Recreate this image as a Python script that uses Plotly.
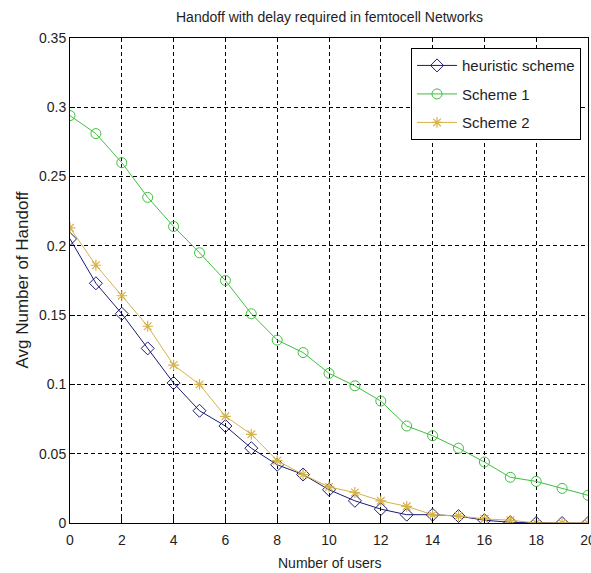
import plotly.graph_objects as go

users = list(range(21))
heuristic = [0.205, 0.173, 0.151, 0.126, 0.101, 0.081, 0.070, 0.054, 0.042, 0.035,
             0.024, 0.016, 0.010, 0.006, 0.006, 0.005, 0.002, 0.0005, 0.0, 0.0, 0.0]
scheme1 = [0.294, 0.281, 0.260, 0.235, 0.214, 0.195, 0.175, 0.151, 0.132, 0.123,
           0.108, 0.099, 0.088, 0.070, 0.063, 0.054, 0.044, 0.033, 0.030, 0.025, 0.020]
scheme2 = [0.213, 0.186, 0.164, 0.142, 0.114, 0.100, 0.077, 0.064, 0.045, 0.035,
           0.026, 0.022, 0.016, 0.012, 0.006, 0.005, 0.003, 0.002, 0.0, 0.0, 0.0]
x_ticks = list(range(0, 21, 2))
y_ticks = [0, 0.05, 0.1, 0.15, 0.2, 0.25, 0.3, 0.35]
y_tick_labels = ["0", "0.05", "0.1", "0.15", "0.2", "0.25", "0.3", "0.35"]

FONT = "Liberation Sans, Arial, sans-serif"
TXT = "#1e1e1e"

fig = go.Figure()
fig.add_trace(go.Scatter(
    x=users, y=heuristic, name="heuristic scheme", mode="lines+markers",
    legendgroup="a",
    line=dict(color="#1c1c70", width=1),
    marker=dict(symbol="diamond-open", size=10, color="#1c1c70", line=dict(width=1)),
))
fig.add_trace(go.Scatter(
    x=users, y=scheme1, name="Scheme 1", mode="lines+markers",
    legendgroup="b",
    line=dict(color="#3fbf3f", width=1),
    marker=dict(symbol="circle-open", size=10, color="#3fbf3f", line=dict(width=1)),
))
fig.add_trace(go.Scatter(
    x=users, y=scheme2, name="Scheme 2", mode="lines+markers",
    legendgroup="c",
    line=dict(color="#d6b24a", width=1),
    marker=dict(symbol="asterisk-open", size=9, color="#d6b24a", line=dict(width=1.2, color="#d6b24a")),
))

axis_common = dict(
    showline=True, linecolor="black", linewidth=1, mirror=True,
    showgrid=True, gridcolor="black", gridwidth=1, griddash="4px,3px",
    ticks="inside", ticklen=5, tickcolor="black", zeroline=False,
    tickfont=dict(family=FONT, size=14, color=TXT),
    automargin=False, ticklabeloverflow="allow",
)

fig.update_layout(
    width=591, height=573,
    margin=dict(l=70, r=3, t=38, b=50),
    paper_bgcolor="white", plot_bgcolor="white",
    font=dict(family=FONT, color=TXT),
    showlegend=True,
    legend=dict(
        x=0.9865, y=0.979, xanchor="right", yanchor="top",
        bgcolor="white", bordercolor="black", borderwidth=1,
        font=dict(family=FONT, size=15, color=TXT),
        itemwidth=40, tracegroupgap=6,
    ),
    xaxis=dict(range=[0, 20], tickmode="array", tickvals=x_ticks,
               ticklabelstandoff=4, **axis_common),
    yaxis=dict(range=[0, 0.35], tickmode="array", tickvals=y_ticks,
               ticktext=y_tick_labels, **axis_common),
    annotations=[
        dict(text="Handoff with delay required in femtocell Networks", xref="paper", yref="paper",
             x=0.5, y=1, yshift=21, xanchor="center", yanchor="middle", showarrow=False,
             font=dict(family=FONT, size=14, color=TXT)),
        dict(text="Number of users", xref="paper", yref="paper",
             x=0.5, y=0, yshift=-40, xanchor="center", yanchor="middle", showarrow=False,
             font=dict(family=FONT, size=14, color=TXT)),
        dict(text="Avg Number of Handoff", xref="paper", xanchor="center", yanchor="middle",
             x=0, xshift=-48, yref="paper", y=0.5, textangle=-90, showarrow=False,
             font=dict(family=FONT, size=17, color=TXT)),
    ],
)

fig.write_html("out.html", config={"displayModeBar": False},
               post_script="document.body.style.margin='0';document.body.style.overflow='hidden';")
